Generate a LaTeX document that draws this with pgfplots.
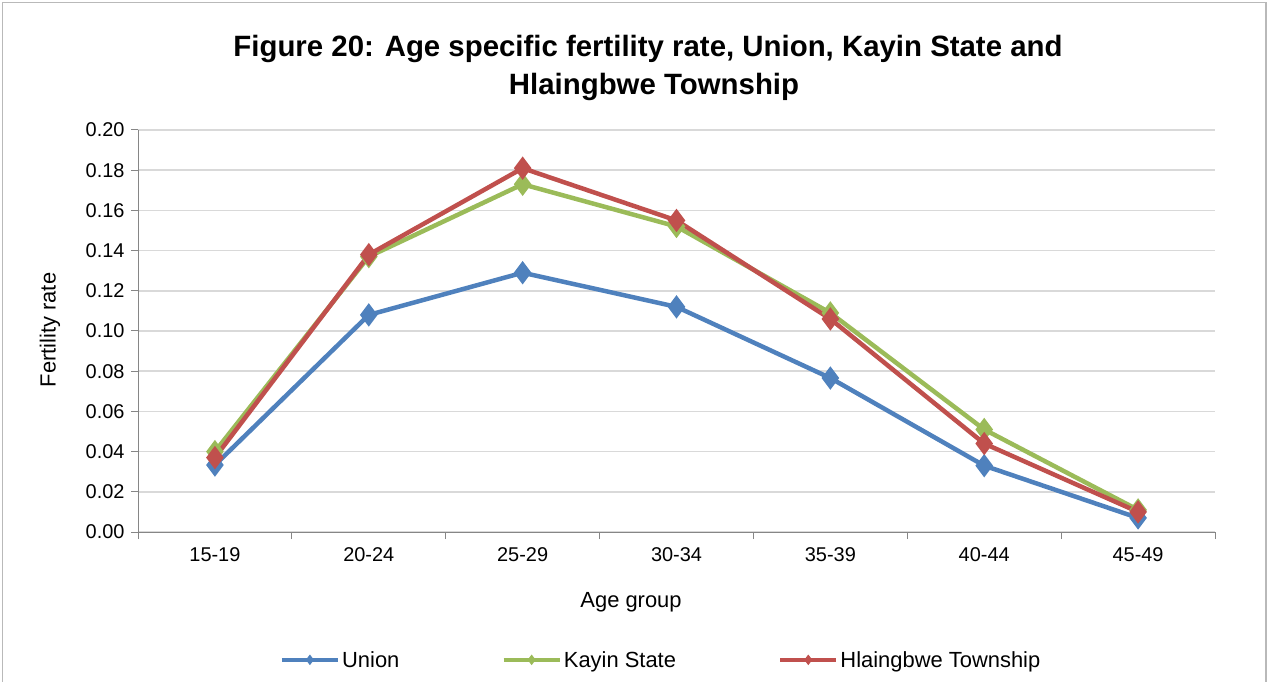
\documentclass[border=0pt]{standalone}
\usepackage{pgfplots}
\pgfplotsset{compat=1.18}
\usepackage{fontspec}
\setmainfont{Liberation Sans}
\definecolor{cUnion}{HTML}{4F81BD}
\definecolor{cKayin}{HTML}{9BBB59}
\definecolor{cHla}{HTML}{C0504D}
\definecolor{gridc}{HTML}{D9D9D9}
\definecolor{axc}{HTML}{868686}
\begin{document}
\begin{tikzpicture}
\path[use as bounding box] (0,0) rectangle (1269bp,682bp);
\draw[gray!55, line width=1.2bp] (2.5bp,-5bp) rectangle (1266bp,679.5bp);
\node[anchor=base, font=\fontsize{29.5}{33}\selectfont\bfseries] at (648bp,625bp) {Figure 20: Age specific fertility rate, Union, Kayin State and};
\node[anchor=base, font=\fontsize{29.5}{33}\selectfont\bfseries] at (654bp,587bp) {Hlaingbwe Township};
\begin{axis}[
  at={(138bp,150bp)}, anchor=south west,
  scale only axis, width=1077bp, height=402bp,
  xmin=-0.5, xmax=6.5, ymin=0, ymax=0.2,
  axis x line*=bottom, axis y line*=left,
  axis line style={axc, line width=1bp},
  xtick={0,...,6},
  xticklabels={15-19,20-24,25-29,30-34,35-39,40-44,45-49},
  minor xtick={-0.5,0.5,...,6.5},
  major x tick style={draw=none},
  minor tick length=7bp,
  ytick={0,0.02,...,0.2},
  major tick length=7bp,
  tick align=outside,
  tick style={axc, line width=1bp},
  ymajorgrids, grid style={gridc, line width=1.5bp},
  ticklabel style={font=\fontsize{20}{22}\selectfont},
  /pgf/number format/fixed, /pgf/number format/fixed zerofill, /pgf/number format/precision=2,
  /pgf/number format/assume math mode=true,
  xticklabel style={yshift=-5bp},
  yticklabel style={xshift=-3bp},
  xlabel={Age group}, ylabel={Fertility rate},
  label style={font=\fontsize{22}{24}\selectfont},
  xlabel style={at={(axis description cs:0.4578,-0.174)}, anchor=center},
  ylabel style={at={(axis description cs:-0.0817,0.5025)}, anchor=center},
  every axis plot/.append style={line width=4.5bp, mark=diamond*, mark size=8bp, mark options={solid}},
  legend style={draw=none, at={(axis description cs:0.4856,-0.318)}, anchor=center,
    font=\fontsize{22}{24}\selectfont, legend columns=3,
    /tikz/every even column/.append style={column sep=100bp}},
  legend image code/.code={\draw[#1, line width=4.5bp, mark=none] (0bp,0bp) -- (56bp,0bp);
    \draw[#1, line width=1bp, mark size=4.5bp] plot coordinates {(28bp,0bp)};},
  clip=false,
]
\addplot[color=cUnion] coordinates {(0,0.0333) (1,0.108) (2,0.129) (3,0.112) (4,0.0766) (5,0.033) (6,0.007)};
\addplot[color=cKayin] coordinates {(0,0.040) (1,0.137) (2,0.173) (3,0.152) (4,0.109) (5,0.051) (6,0.011)};
\addplot[color=cHla] coordinates {(0,0.037) (1,0.138) (2,0.181) (3,0.155) (4,0.106) (5,0.044) (6,0.010)};
\legend{Union, Kayin State, Hlaingbwe Township}
\end{axis}
\end{tikzpicture}
\end{document}
